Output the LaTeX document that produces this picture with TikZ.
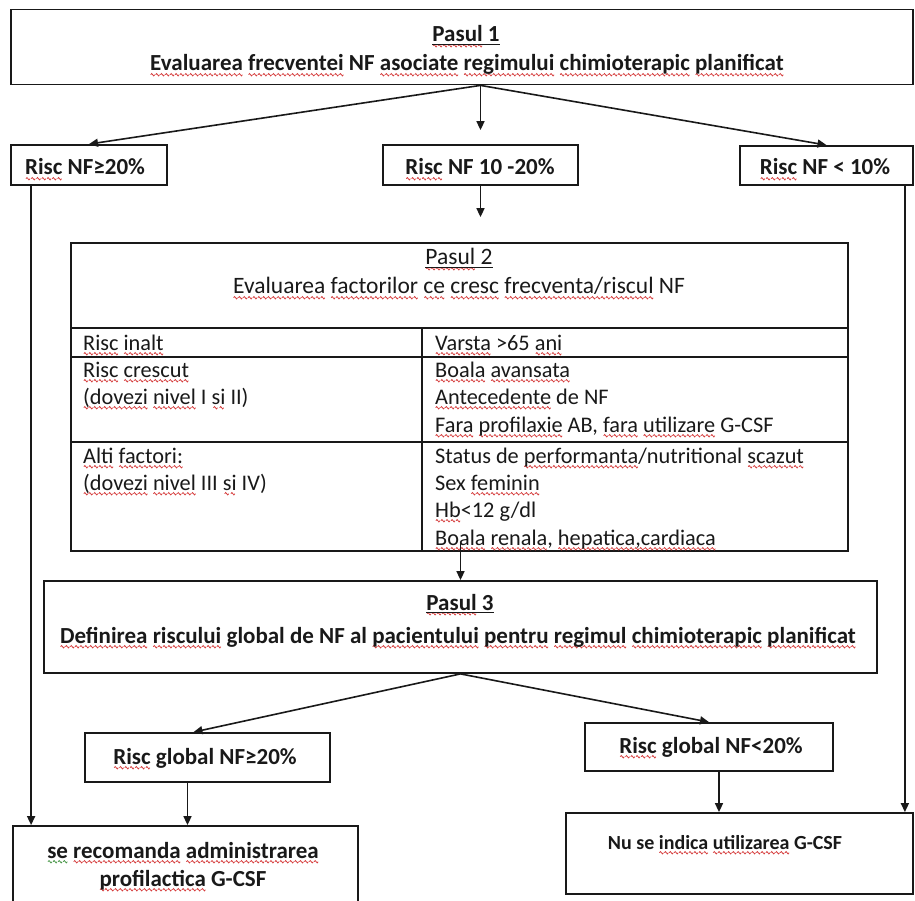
\documentclass[tikz,border=0pt]{standalone}
\usepackage{fontspec}
\setmainfont{Carlito}
\usetikzlibrary{arrows.meta}
\definecolor{ink}{RGB}{25,25,25}
\definecolor{sqred}{RGB}{214,60,60}
\definecolor{sqgreen}{RGB}{70,150,70}
% one period of the wavy spell-check underline, 4pt wide
\newcommand\wavepiece[1]{\begin{pgfpicture}%
  \pgfpathmoveto{\pgfpoint{0pt}{0pt}}%
  \pgfpathsine{\pgfpoint{1pt}{1.2pt}}%
  \pgfpathcosine{\pgfpoint{1pt}{-1.2pt}}%
  \pgfpathsine{\pgfpoint{1pt}{-1.2pt}}%
  \pgfpathcosine{\pgfpoint{1pt}{1.2pt}}%
  \pgfsetlinewidth{0.75pt}\pgfsetstrokecolor{#1}%
  \pgfusepath{stroke}%
\end{pgfpicture}}
\newbox\wavered
\newbox\wavegreen
\AtBeginDocument{%
  \global\setbox\wavered=\hbox{\wavepiece{sqred}}%
  \global\setbox\wavegreen=\hbox{\wavepiece{sqgreen}}}
% wavy underline under a word: red for spelling, green for grammar
\newcommand\sq[1]{\setbox0\hbox{#1}\rlap{\lower5.3pt\hbox to\wd0{\xleaders\copy\wavered\hfill}}\box0\relax}
\newcommand\sqg[1]{\setbox0\hbox{#1}\rlap{\lower5.3pt\hbox to\wd0{\xleaders\copy\wavegreen\hfill}}\box0\relax}
\begin{document}
\begin{tikzpicture}[x=1pt,y=-1pt,
  box/.style={draw=ink, line width=1.8pt, inner sep=0pt},
  rule/.style={draw=ink, line width=1.5pt},
  arr/.style={draw=ink, line width=1.6pt, -{Triangle[length=9pt,width=8pt]}},
  ul/.style={draw=ink, line width=1pt},
  tb/.style={font=\fontsize{23}{27}\selectfont\bfseries, inner sep=0pt, anchor=base, text=ink},
  tbs/.style={tb, font=\fontsize{20}{24}\selectfont\bfseries},
  th/.style={font=\fontsize{23.5}{27}\selectfont, inner sep=0pt, anchor=base, text=ink},
  cell/.style={font=\fontsize{22.3}{26}\selectfont, inner sep=0pt, anchor=base west, text=ink}]
\clip (0,0) rectangle (915,901);
\fill[white] (0,0) rectangle (915,901);

% ---------- boxes ----------
\node[box, minimum width=902pt, minimum height=75pt] (p1) at (462,47) {};
\node[box, minimum width=156pt, minimum height=40pt] (r1) at (89,165) {};
\node[box, minimum width=195pt, minimum height=40pt] (r2) at (480.5,165) {};
\node[box, minimum width=173pt, minimum height=39pt] (r3) at (826.5,165.5) {};
\node[box, minimum width=777pt, minimum height=308pt] (tab) at (459.5,397) {};
\node[box, minimum width=833pt, minimum height=92pt] (p3) at (460.5,627) {};
\node[box, minimum width=245pt, minimum height=49pt] (g1) at (207.5,757.5) {};
\node[box, minimum width=248pt, minimum height=48pt] (g2) at (709,747) {};
\node[box, minimum width=345pt, minimum height=94pt] (b1) at (185.5,873) {};
\node[box, minimum width=347pt, minimum height=81pt] (b2) at (739.5,853.5) {};

% ---------- table rulings ----------
\draw[rule] (71,328) -- (848,328);
\draw[rule] (71,357) -- (848,357);
\draw[rule] (71,442) -- (848,442);
\draw[rule] (422,328) -- (422,551);

% ---------- step 1 ----------
\node[tb] (p1a) at (466,42) {\sq{Pasul} 1};
\draw[ul] ([yshift=-2.5pt]p1a.base west) -- ([yshift=-2.5pt]p1a.base east);
\node[tb] (p1b) at (467,71) {\sq{Evaluarea} \sq{frecventei} NF \sq{asociate} \sq{regimului} \sq{chimioterapic} \sq{planificat}};

\node[tb] (r1t) at (85,175) {\sq{Risc} NF≥20\%};
\node[tb] (r2t) at (480,175) {\sq{Risc} NF 10 -20\%};
\node[tb] (r3t) at (825,175) {\sq{Risc} NF < 10\%};

% ---------- step 2 ----------
\node[th] (p2a) at (459,265) {\sq{Pasul} 2};
\draw[ul] ([yshift=-2.5pt]p2a.base west) -- ([yshift=-2.5pt]p2a.base east);
\node[th] (p2b) at (459,294) {\sq{Evaluarea} \sq{factorilor} \sq{ce} \sq{cresc} \sq{frecventa/riscul} NF};

\node[cell] (c11) at (83,350) {\sq{Risc} \sq{inalt}};
\node[cell] (c12) at (435,350) {\sq{Varsta} >65 \sq{ani}};
\node[cell] (c21) at (83,377) {\sq{Risc} \sq{crescut}};
\node[cell] (c22) at (83,404) {\sq{(dovezi} \sq{nivel} I \sq{si} II)};
\node[cell] (c23) at (435,377) {\sq{Boala} \sq{avansata}};
\node[cell] (c24) at (435,404) {\sq{Antecedente} de NF};
\node[cell] (c25) at (435,432) {\sq{Fara} \sq{profilaxie} AB, \sq{fara} \sq{utilizare} G-CSF};
\node[cell] (c31) at (83,463) {\sq{Alti} \sq{factori:}};
\node[cell] (c32) at (83,490) {\sq{(dovezi} \sq{nivel} III \sq{si} IV)};
\node[cell] (c33) at (435,463) {Status de \sq{performanta}/nutritional \sq{scazut}};
\node[cell] (c34) at (435,490) {Sex \sq{feminin}};
\node[cell] (c35) at (435,517) {\sq{Hb}<12 g/dl};
\node[cell] (c36) at (435,545) {\sq{Boala} \sq{renala}, \sq{hepatica,cardiaca}};

% ---------- step 3 ----------
\node[tb] (p3a) at (460,610) {\sq{Pasul} 3};
\draw[ul] ([yshift=-2.5pt]p3a.base west) -- ([yshift=-2.5pt]p3a.base east);
\node[tb] (p3b) at (458,643) {\sq{Definirea} \sq{riscului} global de NF al \sq{pacientului} \sq{pentru} \sq{regimul} \sq{chimioterapic} \sq{planificat}};

\node[tb] (g1t) at (205,764) {\sq{Risc} global NF≥20\%};
\node[tb] (g2t) at (711,753) {\sq{Risc} global NF<20\%};

\node[tb] (b1a) at (183,858) {\sqg{se} \sq{recomanda} \sq{administrarea}};
\node[tb] (b1b) at (183,886) {\sq{profilactica} G-CSF};
\node[tbs] (b2t) at (725,849) {Nu se \sq{indica} \sq{utilizarea} G-CSF};

% ---------- connectors ----------
\coordinate (p1o) at (p1.south -| r2.north);
\draw[arr] (p1o) -- (r1.north);
\draw[arr] (p1o) -- ([yshift=14pt]r2.north);
\draw[arr] (p1o) -- (r3.north);

\coordinate (t2) at (r2.south |- tab.north);
\draw[arr] (r2.south) -- ([yshift=25pt]t2);

\coordinate (t3) at (p3.north |- tab.south);
\draw[arr] ([yshift=9pt]t3) -- (p3.north);

\draw[arr] (p3.south) -- ([xshift=-14pt]g1.north);
\draw[arr] (p3.south) -- (g2.north);

\coordinate (g1d) at ([xshift=-20pt]g1.south);
\draw[arr] (g1d) -- (g1d |- b1.north);
\coordinate (g2d) at ([xshift=10pt]g2.south);
\draw[arr] (g2d) -- (g2d |- b2.north);

\coordinate (r1d) at ([xshift=21pt]r1.south west);
\draw[arr] (r1d) -- (r1d |- b1.north);
\coordinate (r3d) at ([xshift=-9pt]r3.south east);
\draw[arr] (r3d) -- (r3d |- b2.north);
\end{tikzpicture}
\end{document}
